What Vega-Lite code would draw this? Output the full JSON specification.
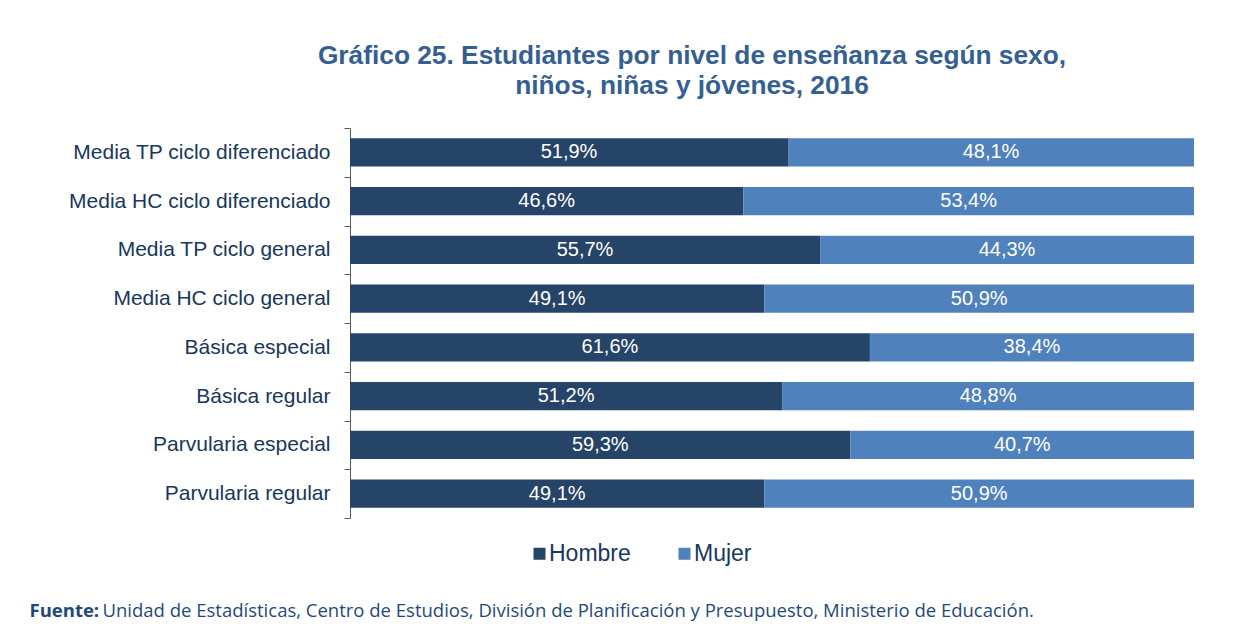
{
  "$schema": "https://vega.github.io/schema/vega-lite/v6.json",
  "autosize": "none",
  "width": 844,
  "height": 390,
  "padding": {"left": 350, "top": 128, "right": 59, "bottom": 106},
  "background": "white",
  "config": {"view": {"stroke": null}, "font": "Arial"},
  "title": {
    "text": ["Gráfico 25. Estudiantes por nivel de enseñanza según sexo,", "niños, niñas y jóvenes, 2016"],
    "anchor": "middle",
    "frame": "group",
    "dx": -80,
    "offset": 18,
    "fontSize": 26.3,
    "fontWeight": "bold",
    "font": "Arial",
    "color": "#365F91",
    "lineHeight": 30
  },
  "data": {
    "values": [
      {"nivel": "Media TP ciclo diferenciado", "sexo": "Hombre", "orden": 1, "valor": 51.9, "etiqueta": "51,9%"},
      {"nivel": "Media TP ciclo diferenciado", "sexo": "Mujer", "orden": 2, "valor": 48.1, "etiqueta": "48,1%"},
      {"nivel": "Media HC ciclo diferenciado", "sexo": "Hombre", "orden": 1, "valor": 46.6, "etiqueta": "46,6%"},
      {"nivel": "Media HC ciclo diferenciado", "sexo": "Mujer", "orden": 2, "valor": 53.4, "etiqueta": "53,4%"},
      {"nivel": "Media TP ciclo general", "sexo": "Hombre", "orden": 1, "valor": 55.7, "etiqueta": "55,7%"},
      {"nivel": "Media TP ciclo general", "sexo": "Mujer", "orden": 2, "valor": 44.3, "etiqueta": "44,3%"},
      {"nivel": "Media HC ciclo general", "sexo": "Hombre", "orden": 1, "valor": 49.1, "etiqueta": "49,1%"},
      {"nivel": "Media HC ciclo general", "sexo": "Mujer", "orden": 2, "valor": 50.9, "etiqueta": "50,9%"},
      {"nivel": "Básica especial", "sexo": "Hombre", "orden": 1, "valor": 61.6, "etiqueta": "61,6%"},
      {"nivel": "Básica especial", "sexo": "Mujer", "orden": 2, "valor": 38.4, "etiqueta": "38,4%"},
      {"nivel": "Básica regular", "sexo": "Hombre", "orden": 1, "valor": 51.2, "etiqueta": "51,2%"},
      {"nivel": "Básica regular", "sexo": "Mujer", "orden": 2, "valor": 48.8, "etiqueta": "48,8%"},
      {"nivel": "Parvularia especial", "sexo": "Hombre", "orden": 1, "valor": 59.3, "etiqueta": "59,3%"},
      {"nivel": "Parvularia especial", "sexo": "Mujer", "orden": 2, "valor": 40.7, "etiqueta": "40,7%"},
      {"nivel": "Parvularia regular", "sexo": "Hombre", "orden": 1, "valor": 49.1, "etiqueta": "49,1%"},
      {"nivel": "Parvularia regular", "sexo": "Mujer", "orden": 2, "valor": 50.9, "etiqueta": "50,9%"}
    ]
  },
  "transform": [
    {"stack": "valor", "groupby": ["nivel"], "sort": [{"field": "orden", "order": "ascending"}], "as": ["v0", "v1"]},
    {"calculate": "(datum.v0 + datum.v1) / 2", "as": "mid"}
  ],
  "encoding": {
    "y": {
      "field": "nivel",
      "type": "nominal",
      "sort": ["Media TP ciclo diferenciado", "Media HC ciclo diferenciado", "Media TP ciclo general", "Media HC ciclo general", "Básica especial", "Básica regular", "Parvularia especial", "Parvularia regular"],
      "scale": {"paddingInner": 0, "paddingOuter": 0},
      "axis": {
        "title": "Fuente:",
        "titleAngle": 0,
        "titleX": -321,
        "titleY": 488,
        "titleAlign": "left",
        "titleBaseline": "alphabetic",
        "titleFont": "Open Sans",
        "titleFontSize": 18.5,
        "titleFontWeight": "bold",
        "titleColor": "#1F497D",
        "labelFont": "Arial",
        "labelFontSize": 21,
        "labelColor": "#17375E",
        "labelPadding": 14,
        "tickSize": 6,
        "tickColor": "#595959",
        "domainColor": "#595959",
        "tickBand": "extent",
        "labelLimit": 400
      }
    }
  },
  "layer": [
    {
      "mark": {"type": "bar", "height": {"band": 0.58}},
      "encoding": {
        "x": {
          "field": "v0",
          "type": "quantitative",
          "scale": {"domain": [0, 100], "nice": false},
          "axis": {
            "domain": false,
            "ticks": false,
            "labels": false,
            "grid": false,
            "title": "Unidad de Estadísticas, Centro de Estudios, División de Planificación y Presupuesto, Ministerio de Educación.",
            "titleX": -248,
            "titleY": 98,
            "titleAlign": "left",
            "titleBaseline": "alphabetic",
            "titleFont": "Open Sans",
            "titleFontSize": 18.5,
            "titleFontWeight": "normal",
            "titleColor": "#1F497D"
          }
        },
        "x2": {"field": "v1"},
        "color": {
          "field": "sexo",
          "type": "nominal",
          "scale": {"domain": ["Hombre", "Mujer"], "range": ["#264467", "#4F81BD"]},
          "legend": {
            "title": null,
            "orient": "none",
            "legendX": 178,
            "legendY": 414,
            "direction": "horizontal",
            "symbolType": "square",
            "symbolSize": 144,
            "symbolStrokeWidth": 0,
            "symbolOpacity": 1,
            "labelFont": "Arial",
            "labelFontSize": 23,
            "labelColor": "#17375E",
            "labelOffset": -2,
            "columnPadding": 42
          }
        }
      }
    },
    {
      "mark": {"type": "text", "color": "white", "fontSize": 20, "font": "Arial"},
      "encoding": {
        "x": {"field": "mid", "type": "quantitative"},
        "text": {"field": "etiqueta"}
      }
    }
  ]
}
